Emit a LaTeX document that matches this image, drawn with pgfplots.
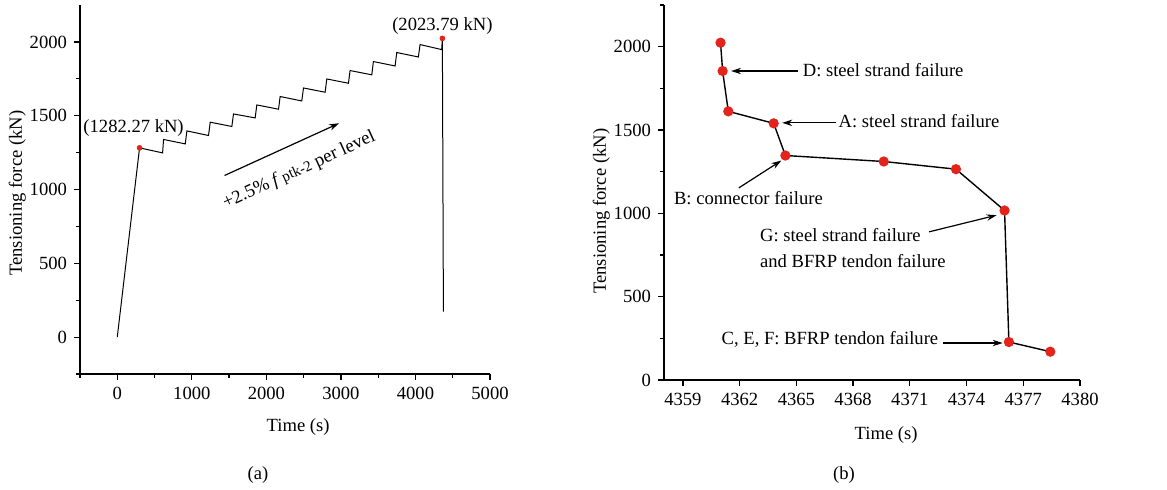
\documentclass[border=0pt]{standalone}
\usepackage{fontspec}
\setmainfont{Liberation Serif}
\usepackage{pgfplots}
\pgfplotsset{compat=1.18}
\usetikzlibrary{arrows.meta}
\definecolor{ptred}{RGB}{226,36,28}
\begin{document}
\begin{tikzpicture}[font=\fontsize{9.3}{11}\selectfont, >={Stealth[length=5pt,width=3.2pt]}]
\useasboundingbox (0,0) rectangle (583.5pt,-244.5pt);
\pgfplotsset{
  every axis/.append style={
    scale only axis,
    axis lines=left,
    axis line style={-, line width=0.6pt},
    tick align=outside,
    tick style={black, line width=0.6pt},
    major tick length=3pt,
    minor tick length=1.8pt,
    tick label style={font=\fontsize{9.3}{11}\selectfont},
    label style={font=\fontsize{9.3}{11}\selectfont},
    /pgf/number format/assume math mode=true,
    /pgf/number format/set thousands separator={},
    clip=false,
  }
}
% ---------- (a) ----------
\begin{axis}[
  at={(40pt,-187pt)}, anchor=south west,
  width=205pt, height=184.5pt,
  xmin=-500, xmax=5000, ymin=-250, ymax=2250,
  xtick={0,1000,...,5000}, minor xtick={-500,500,...,4500},
  ytick={0,500,...,2000}, minor ytick={-250,250,...,1750},
  xlabel={Time (s)}, ylabel={Tensioning force (kN)},
  xlabel style={at={(axis description cs:0.532,-0.144)}, anchor=center},
  ylabel style={at={(axis description cs:-0.115,0.49)}, anchor=south},
]
\addplot[black, line width=0.5pt] coordinates {
(0,0) (299,1282.27) (608,1248) (621,1339) (912,1309) (934,1397) (1224,1366) (1247,1456)
(1537,1427) (1559,1512) (1850,1485) (1872,1573) (2163,1544) (2185,1630) (2475,1600)
(2498,1688) (2788,1659) (2811,1749) (3101,1720) (3123,1806) (3414,1777) (3436,1867)
(3727,1837) (3749,1928) (4039,1898) (4062,1982) (4352,1948) (4361,2023.79) (4375,172)
};
\addplot[only marks, mark=*, mark size=1.2pt, color=ptred] coordinates {(299,1282.27) (4361,2023.79)};
\node at (axis cs:219,1418) {(1282.27 kN)};
\node at (axis cs:4361,2111) {(2023.79 kN)};
\draw[->, line width=0.6pt] (axis cs:1439,1095) -- (axis cs:2976,1449);
\node[rotate=24.5] at (axis cs:2440,1130) {+2.5\% \textit{f}\,{\fontsize{7.5}{9}\selectfont ptk-2} per level};
\end{axis}
\node at (129pt,-237.5pt) {(a)};
% ---------- (b) ----------
\begin{axis}[
  at={(332pt,-190pt)}, anchor=south west,
  width=208pt, height=187.5pt,
  xmin=4358, xmax=4380, ymin=0, ymax=2250,
  xtick={4359,4362,...,4380},
  ytick={0,500,...,2000}, minor ytick={250,750,...,2250},
  axis line style={-, line width=0.8pt},
  xlabel={Time (s)}, ylabel={Tensioning force (kN)},
  xlabel style={at={(axis description cs:0.534,-0.147)}, anchor=center},
  ylabel style={at={(axis description cs:-0.113,0.45)}, anchor=south},
]
\addplot[black, line width=0.7pt, mark=*, mark size=2.2pt,
  mark options={fill=ptred, draw=ptred}] coordinates {
(4360.99,2024) (4361.10,1854) (4361.40,1612) (4363.80,1540) (4364.42,1347)
(4369.62,1311) (4373.44,1265) (4376.01,1017) (4376.24,228) (4378.43,170)
};
\draw[->, line width=0.6pt] (axis cs:4365.09,1854) -- (axis cs:4361.55,1854);
\node[anchor=west, inner sep=0pt] at (axis cs:4365.32,1862) {D: steel strand failure};
\draw[->, line width=0.6pt] (axis cs:4367.12,1543) -- (axis cs:4364.25,1543);
\node[anchor=west, inner sep=0pt] at (axis cs:4367.22,1551) {A: steel strand failure};
\draw[->, line width=0.6pt] (axis cs:4361.96,1153) -- (axis cs:4364.21,1317);
\node[anchor=west, inner sep=0pt] at (axis cs:4358.51,1089) {B: connector failure};
\draw[->, line width=0.6pt] (axis cs:4372.02,889) -- (axis cs:4375.59,989);
\node[anchor=west, inner sep=0pt, align=left] at (axis cs:4363.06,790) {G: steel strand failure\\[2pt]and BFRP tendon failure};
\draw[->, line width=0.6pt] (axis cs:4372.76,222) -- (axis cs:4375.91,222);
\node[anchor=west, inner sep=0pt] at (axis cs:4361.03,242) {C, E, F: BFRP tendon failure};
\end{axis}
\node at (422pt,-237.5pt) {(b)};
\end{tikzpicture}
\end{document}
